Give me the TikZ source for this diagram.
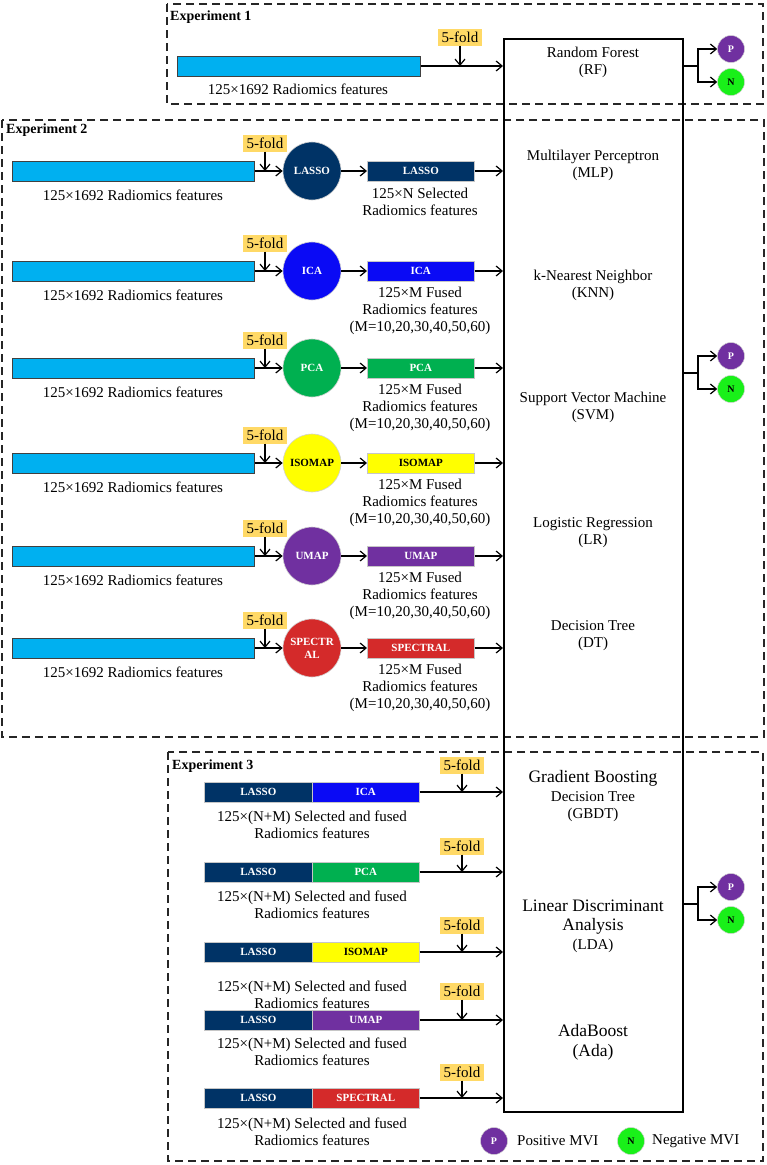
\documentclass[tikz,border=0pt]{standalone}
\usepackage{fontspec}
\setmainfont{Liberation Serif}
\usetikzlibrary{arrows.meta,calc}
\newcommand\fsz[2]{\fontsize{#1}{#2}\selectfont}
\definecolor{cyanbar}{HTML}{00B0F0}
\definecolor{lassoc}{HTML}{003366}
\definecolor{icac}{HTML}{0A0AF5}
\definecolor{pcac}{HTML}{00B050}
\definecolor{isoc}{HTML}{FFFF00}
\definecolor{umapc}{HTML}{7030A0}
\definecolor{specc}{HTML}{D42A2A}
\definecolor{foldc}{HTML}{FFD966}
\definecolor{posc}{HTML}{7030A0}
\definecolor{negc}{HTML}{19F019}
\tikzset{
  expframe/.style={draw=black!85, line width=1.2pt, dash pattern=on 8pt off 5pt},
  explabel/.style={font=\bfseries\fsz{14}{16}, anchor=west, inner sep=0pt},
  clfbox/.style={draw=black, line width=2.4pt, anchor=north west, inner sep=0pt},
  feat/.style={draw=black!75, fill=cyanbar, line width=0.8pt, minimum height=20pt, inner sep=0pt, anchor=west},
  mbar/.style={fill=#1, draw=gray!45, line width=0.6pt, minimum height=20pt, inner sep=0pt, anchor=west, font=\bfseries\fsz{11}{12}},
  mcirc/.style={circle, fill=#1, draw=gray!35, line width=0.6pt, minimum size=58pt, inner sep=0pt, align=center, font=\bfseries\fsz{11}{13}},
  fold/.style={fill=foldc, inner xsep=3.5pt, inner ysep=0pt, minimum height=17pt, font=\fsz{15}{16}},
  txt/.style={font=\fsz{15}{17}, align=center, inner sep=0pt},
  bigtxt/.style={font=\fsz{17.5}{19}, inner sep=0pt},
  conn/.style={-{Straight Barb[length=6pt,width=10pt]}, line width=1.2pt},
  plain/.style={line width=1.2pt},
  posn/.style={circle, fill=posc, draw=gray!35, line width=0.5pt, minimum size=27pt, inner sep=0pt, text=white, font=\bfseries\fsz{10}{11}},
  negn/.style={circle, fill=negc, draw=gray!35, line width=0.5pt, minimum size=27pt, inner sep=0pt, text=black, font=\bfseries\fsz{10}{11}}
}
\begin{document}
\begin{tikzpicture}[x=1pt,y=-1pt]
\useasboundingbox (0,0) rectangle (767,1165);
\fill[white] (0,0) rectangle (767,1165);

% experiment frames
\draw[expframe] (167,4) rectangle (763,104);
\draw[expframe] (2,120) rectangle (764,737);
\draw[expframe] (168,752) rectangle (763,1161);
\node[explabel] (e1) at (170,17) {Experiment 1};
\node[explabel] (e2) at (6,130) {Experiment 2};
\node[explabel] (e3) at (172,766) {Experiment 3};

% classifier box
\node[clfbox, minimum width=179pt, minimum height=1073pt] (clf) at (503,38) {};
\node[txt] (rf) at (593,62.5) {Random Forest\\(RF)};
\node[txt] (mlp) at (593,165.5) {Multilayer Perceptron\\(MLP)};
\node[txt] (knn) at (593,285) {k-Nearest Neighbor\\(KNN)};
\node[txt] (svm) at (593,407) {Support Vector Machine\\(SVM)};
\node[txt] (lr) at (593,533) {Logistic Regression\\(LR)};
\node[txt] (dt) at (593,636) {Decision Tree\\(DT)};
\node[bigtxt] (gb1) at (593,778) {Gradient Boosting};
\node[txt] (gb2) at (593,797) {Decision Tree};
\node[txt] (gb3) at (593,815) {(GBDT)};
\node[bigtxt] (ld1) at (593,906) {Linear Discriminant};
\node[bigtxt] (ld2) at (593,926) {Analysis};
\node[txt] (ld3) at (593,946) {(LDA)};
\node[bigtxt] (ab1) at (593,1031) {AdaBoost};
\node[bigtxt] (ab2) at (593,1052) {(Ada)};

% experiment 1
\node[feat, minimum width=243pt] (f0) at (177,66) {};
\node[txt] (t0) at (298,89) {125×1692 Radiomics features};
\node[fold] (k0) at (460,37) {5-fold};
\draw[conn] (f0.east) -- (f0.east -| clf.west);
\draw[conn] (k0.south) -- (k0.south |- f0.east);

% experiment 2
\foreach \i/\y/\clab/\lab/\col/\tcol/\dy/\desc in {
  1/171/LASSO/LASSO/lassoc/white/30.5/{125×N Selected\\Radiomics features},
  2/271/ICA/ICA/icac/white/40/{125×M Fused\\Radiomics features\\(M=10,20,30,40,50,60)},
  3/368/PCA/PCA/pcac/white/40/{125×M Fused\\Radiomics features\\(M=10,20,30,40,50,60)},
  4/463/ISOMAP/ISOMAP/isoc/black/40/{125×M Fused\\Radiomics features\\(M=10,20,30,40,50,60)},
  5/556/UMAP/UMAP/umapc/white/40/{125×M Fused\\Radiomics features\\(M=10,20,30,40,50,60)},
  6/648/{SPECTR\\AL}/SPECTRAL/specc/white/40/{125×M Fused\\Radiomics features\\(M=10,20,30,40,50,60)}}{
  \node[feat, minimum width=242pt] (f\i) at (12,\y) {};
  \node[txt] (ft\i) at (133,\y+24) {125×1692 Radiomics features};
  \node[fold] (k\i) at (265,\y-28) {5-fold};
  \node[mcirc=\col, text=\tcol] (c\i) at (312,\y) {\clab};
  \node[mbar=\col, minimum width=107pt, text=\tcol] (m\i) at (367,\y) {\lab};
  \node[txt] (d\i) at (420,\y+\dy) {\desc};
  \draw[conn] (f\i.east) -- (c\i.west);
  \draw[conn] (k\i.south) -- (k\i.south |- f\i.east);
  \draw[conn] (c\i.east) -- (m\i.west);
  \draw[conn] (m\i.east) -- (m\i.east -| clf.west);
}

% experiment 3
\foreach \i/\y/\fy/\ty/\lab/\col/\tcol in {
  1/792/765/824.5/ICA/icac/white,
  2/872/846/905/PCA/pcac/white,
  3/952/925/995/ISOMAP/isoc/black,
  4/1020/991/1051.5/UMAP/umapc/white,
  5/1098/1072/1131.5/SPECTRAL/specc/white}{
  \node[mbar=lassoc, minimum width=108pt, text=white] (l\i) at (204,\y) {LASSO};
  \node[mbar=\col, minimum width=107pt, text=\tcol] (g\i) at (312,\y) {\lab};
  \node[txt] (s\i) at (312,\ty) {125×(N+M) Selected and fused\\Radiomics features};
  \node[fold] (h\i) at (462,\fy) {5-fold};
  \draw[conn] (g\i.east) -- (g\i.east -| clf.west);
  \draw[conn] (h\i.south) -- (h\i.south |- g\i.east);
}

% outputs
\foreach \j/\by in {1/66, 2/373, 3/904}{
  \coordinate (b\j) at (698,\by);
  \node[posn] (p\j) at (731,\by-17) {P};
  \node[negn] (n\j) at (731,\by+16) {N};
  \draw[plain] (b\j -| clf.east) -- (b\j);
  \draw[conn] (b\j) |- (p\j.west);
  \draw[conn] (b\j) |- (n\j.west);
}

% legend
\node[posn] (lp) at (494,1141) {P};
\node[txt, anchor=west] (lpt) at (517,1141) {Positive MVI};
\node[negn] (ln) at (631,1141) {N};
\node[txt, anchor=west] (lnt) at (652,1141) {Negative MVI};
\end{tikzpicture}
\end{document}
